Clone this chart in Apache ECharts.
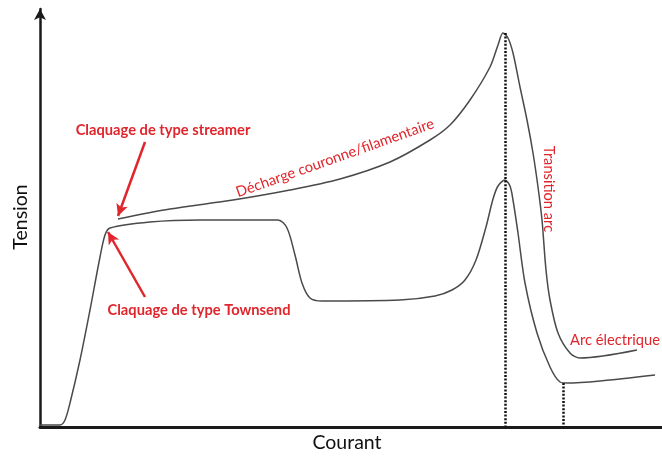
<!DOCTYPE html>
<html>
<head>
<meta charset="utf-8">
<script src="https://cdn.jsdelivr.net/npm/echarts@6/dist/echarts.min.js"></script>
<style>
  html, body { margin: 0; padding: 0; background: #fff; }
  #chart { width: 662px; height: 457px; }
</style>
</head>
<body>
<div id="chart"></div>
<script>
// courbe du bas (claquage Townsend -> arc)
const lowerCurve = [
  [0, 2], [20, 2], [25, 7], [30, 24], [40, 67], [50, 117], [60, 170], [65, 192],
  [70, 199], [110, 205], [160, 207], [238, 207], [247, 199], [255, 172], [262, 144],
  [270, 129], [282, 126], [360, 127], [395, 131], [412, 137], [425, 147], [436, 167],
  [446, 200], [453, 228], [458, 241], [465, 247], [470, 241], [473, 227], [478, 194],
  [485, 144], [497, 94], [510, 60], [520, 45], [527, 44], [560, 46], [615, 52]
]
// courbe du haut (streamer -> décharge couronne/filamentaire -> arc)
const upperCurve = [
  [78, 208], [130, 218], [193, 227], [250, 237], [300, 248], [350, 265], [390, 287],
  [410, 302], [430, 327], [450, 360], [458, 382], [463, 394], [468, 389], [473, 374],
  [480, 340], [487, 307], [493, 274], [498, 240], [502, 207], [506, 157], [510, 127],
  [518, 94], [530, 74], [540, 69], [597, 77]
]
// flèches rouges (départ, pointe)
const arrowStreamer = [[105, 285], [78, 211]]
const arrowTownsend = [[105, 130], [68, 195]]
// pointillés verticaux
const dottedPeak = [[465, 394], [465, 0]]
const dottedArc = [[523, 44], [523, 0]]

const red = '#e0262c'
const chart = echarts.init(document.getElementById('chart'))

function redText (text, x, y, opts) {
  return Object.assign({
    type: 'text',
    x: x,
    y: y,
    style: {
      text: text,
      fill: red,
      font: (opts && opts.weight || 'normal') + ' 14.7px Lato',
      align: 'center',
      verticalAlign: 'middle'
    }
  }, opts && opts.extra)
}

const option = {
  animation: false,
  grid: { left: 40, right: 0, top: 9, bottom: 30 },
  xAxis: {
    type: 'value',
    min: 0,
    max: 622,
    axisLine: { lineStyle: { color: '#1a1a1a', width: 3 } },
    axisTick: { show: false },
    axisLabel: { show: false },
    splitLine: { show: false }
  },
  yAxis: {
    type: 'value',
    min: 0,
    max: 418,
    axisLine: {
      show: true,
      symbol: ['none', 'arrow'],
      symbolSize: [9, 11],
      lineStyle: { color: '#1a1a1a', width: 2.5 }
    },
    axisTick: { show: false },
    axisLabel: { show: false },
    splitLine: { show: false }
  },
  series: [
    {
      type: 'line',
      data: lowerCurve,
      smooth: 0.3,
      showSymbol: false,
      lineStyle: { color: '#4a4a4a', width: 1.5 },
      markLine: {
        silent: true,
        symbol: ['none', 'none'],
        label: { show: false },
        lineStyle: { color: '#111', width: 2.5, type: [2, 1.6] },
        data: [
          [{ coord: dottedPeak[0] }, { coord: dottedPeak[1] }],
          [{ coord: dottedArc[0] }, { coord: dottedArc[1] }]
        ]
      }
    },
    {
      type: 'line',
      data: upperCurve,
      smooth: 0.3,
      showSymbol: false,
      lineStyle: { color: '#4a4a4a', width: 1.5 },
      markLine: {
        silent: true,
        symbol: ['none', 'arrow'],
        symbolSize: [9, 12],
        label: { show: false },
        lineStyle: { color: red, width: 2.5, type: 'solid' },
        data: [
          [{ coord: arrowStreamer[0] }, { coord: arrowStreamer[1] }],
          [{ coord: arrowTownsend[0] }, { coord: arrowTownsend[1] }]
        ]
      }
    }
  ],
  graphic: [
    {
      type: 'text', x: 21, y: 217, rotation: Math.PI / 2,
      style: { text: 'Tension', fill: '#111', font: '19.5px Lato', align: 'center', verticalAlign: 'middle' }
    },
    {
      type: 'text', x: 347, y: 443,
      style: { text: 'Courant', fill: '#111', font: '19.5px Lato', align: 'center', verticalAlign: 'middle' }
    },
    redText('Claquage de type streamer', 163, 130, { weight: 'bold' }),
    redText('Claquage de type Townsend', 199, 310, { weight: 'bold' }),
    redText('Décharge couronne/filamentaire', 335, 158, { extra: { rotation: 19.5 * Math.PI / 180 } }),
    redText('Transition arc', 549, 189, { extra: { rotation: -Math.PI / 2 } }),
    redText('Arc électrique', 615, 340)
  ]
}

chart.setOption(option)
</script>
</body>
</html>
